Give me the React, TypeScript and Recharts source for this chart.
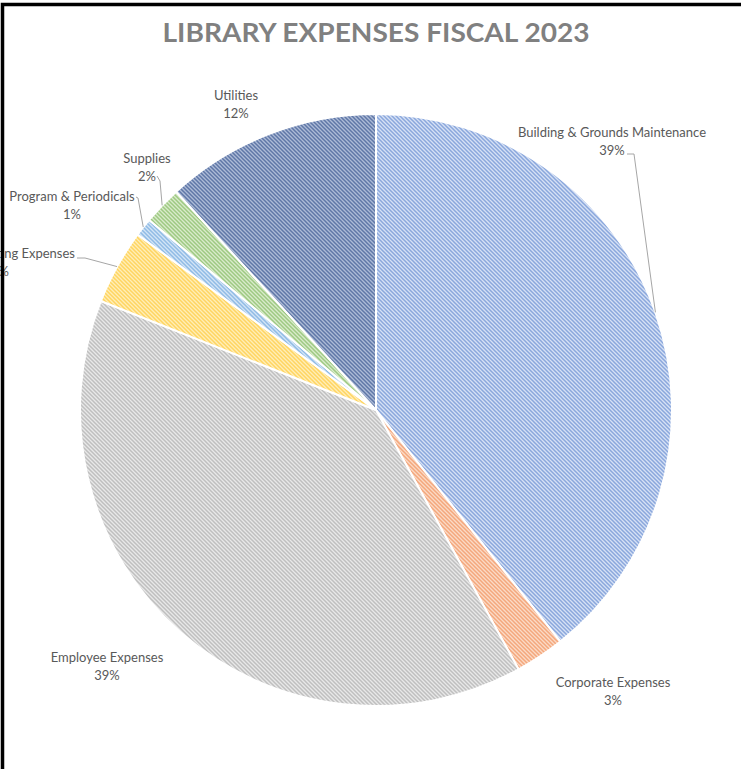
import React from 'react';
import { PieChart, Pie, Cell } from 'recharts';

const CATEGORIES = [
  'Building & Grounds Maintenance',
  'Corporate Expenses',
  'Employee Expenses',
  'Library Operating Expenses',
  'Program & Periodicals',
  'Supplies',
  'Utilities',
];
const VALUES = [39.3, 2.7, 39.0, 4.1, 1.0, 2.1, 11.8];
const TITLE = 'LIBRARY EXPENSES FISCAL 2023';

const LINE_COLORS = ['#8aa7dc', '#f4a77c', '#bfbfbf', '#ffd560', '#90bbe5', '#9ec982', '#5f77a7'];
const BG_COLORS = ['#d6e1f5', '#fbdac6', '#e8e8e8', '#ffeeb8', '#d3e5f6', '#d9ebcb', '#adbbd7'];

// label placement relative to pie centre (Excel-style manual placement)
const LABEL_LAYOUT = [
  { dx: 236, dy: -269, leader: [[251, -256], [258, -256]] },
  { dx: 237, dy: 281, leader: null },
  { dx: -269, dy: 256, leader: null },
  { dx: -376, dy: -148, endAnchorDx: -301, leader: [[-299, -152], [-291, -152]] },
  { dx: -304, dy: -205, leader: [[-240, -213], [-238, -212]] },
  { dx: -229, dy: -243, leader: [[-219, -234], [-216, -229]] },
  { dx: -140, dy: -306, leader: null },
];

const total = VALUES.reduce((a, b) => a + b, 0);
const data = CATEGORIES.map((name, i) => ({
  name,
  value: VALUES[i],
  pct: `${Math.round((VALUES[i] / total) * 100)}%`,
}));

const RAD = Math.PI / 180;
const FONT = 'Lato, "Open Sans", sans-serif';

const renderLabel = (props: any) => {
  const { cx, cy, midAngle, outerRadius, index } = props;
  const L: any = LABEL_LAYOUT[index];
  const d = data[index];
  const x = cx + L.dx;
  const y = cy + L.dy;
  let leader = null;
  if (L.leader) {
    const ex = cx + outerRadius * Math.cos(-midAngle * RAD);
    const ey = cy + outerRadius * Math.sin(-midAngle * RAD);
    const pts = L.leader.map((p: number[]) => `${cx + p[0]},${cy + p[1]}`).join(' ') + ` ${ex},${ey}`;
    leader = <polyline points={pts} fill="none" stroke="#a6a6a6" strokeWidth={1} />;
  }
  const line1X = L.endAnchorDx !== undefined ? cx + L.endAnchorDx : x;
  const line1Anchor = L.endAnchorDx !== undefined ? 'end' : 'middle';
  return (
    <g key={`lbl-${index}`}>
      {leader}
      <text x={line1X} y={y - 9 + 4.5} textAnchor={line1Anchor} fill="#595959" fontSize={13} fontFamily={FONT}>
        {d.name}
      </text>
      <text x={x} y={y + 9 + 4.5} textAnchor="middle" fill="#595959" fontSize={13} fontFamily={FONT}>
        {d.pct}
      </text>
    </g>
  );
};

export default function App() {
  return (
    <div style={{ position: 'absolute', left: 0, top: 0, width: 741, height: 769, overflow: 'hidden', background: '#fff' }}>
      <PieChart width={741} height={769} margin={{ top: 0, right: 0, bottom: 0, left: 0 }}>
        <defs>
          {LINE_COLORS.map((c, i) => (
            <pattern key={i} id={`hatch-${i}`} patternUnits="userSpaceOnUse" width={4} height={4}>
              <rect width={4} height={4} fill={BG_COLORS[i]} />
              <path d="M-1,-1 L5,5 M-1,3 L1,5 M3,-1 L5,1" stroke={c} strokeWidth={1.5} />
            </pattern>
          ))}
        </defs>
        <Pie
          data={data}
          dataKey="value"
          nameKey="name"
          cx={376}
          cy={410}
          outerRadius={296}
          innerRadius={0}
          startAngle={90}
          endAngle={-270}
          stroke="#ffffff"
          strokeWidth={2}
          label={renderLabel}
          labelLine={false}
          isAnimationActive={false}
        >
          {data.map((_, i) => (
            <Cell key={i} fill={`url(#hatch-${i})`} />
          ))}
        </Pie>
      </PieChart>
      <svg width={741} height={769} style={{ position: 'absolute', left: 0, top: 0, pointerEvents: 'none' }}>
        <text
          x={376}
          y={42}
          textAnchor="middle"
          fill="#808080"
          fontSize={26}
          fontWeight="bold"
          fontFamily={FONT}
          textLength={427}
          lengthAdjust="spacingAndGlyphs"
        >
          {TITLE}
        </text>
        <rect x={2.5} y={4.5} width={800} height={800} fill="none" stroke="#000" strokeWidth={3.5} />
      </svg>
    </div>
  );
}
